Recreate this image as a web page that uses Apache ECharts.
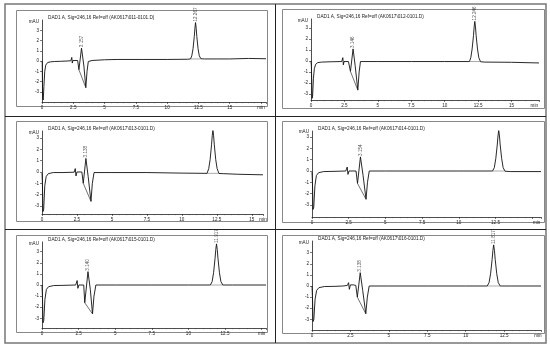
<!DOCTYPE html>
<html><head><meta charset="utf-8">
<script src="https://cdn.jsdelivr.net/npm/echarts@6/dist/echarts.min.js"></script>
<style>html,body{margin:0;padding:0;background:#fff}#c{width:550px;height:346px}</style>
</head><body><div id="c"></div>
<script>
// ---- data ----
const titles = [
  "DAD1 A, Sig=246,16 Ref=off (AK0617\\011-0101.D)",
  "DAD1 A, Sig=246,16 Ref=off (AK0617\\012-0101.D)",
  "DAD1 A, Sig=246,16 Ref=off (AK0617\\013-0101.D)",
  "DAD1 A, Sig=246,16 Ref=off (AK0617\\014-0101.D)",
  "DAD1 A, Sig=246,16 Ref=off (AK0617\\015-0101.D)",
  "DAD1 A, Sig=246,16 Ref=off (AK0617\\016-0101.D)"
];
const yTicks = [-3,-2,-1,0,1,2,3];
const xTickLabels = [0,2.5,5,7.5,10,12.5,15];
const xMax = [17.9, 17.05, 15.8, 15.6, 15.3, 14.9];
const yMin = [-4.0, -3.55, -3.72, -4.07, -3.87, -3.96];
const yMaxV = [4.0, 3.82, 3.63, 3.54, 3.87, 4.05];
const minLabelPos = [17.5, 16.7, 15.8, 15.3, 15.0, 14.7];

const trace1 = [[0,0],[0.02,-0.2],[0.05,-3.6],[0.1,-3.8],[0.15,-2.5],[0.22,-1.0],[0.3,-0.4],[0.45,-0.15],[0.7,-0.08],[1.0,-0.05],[1.5,-0.03],[2.0,0.0],[2.3,0.02],[2.38,0.35],[2.42,-0.2],[2.47,0.05],[2.6,0.05],[2.85,0.05],[2.95,-0.85],[3.157,1.25],[3.35,-0.5],[3.5,-2.6],[3.6,-1.0],[3.7,-0.05],[4.0,0.05],[5.0,0.12],[6.0,0.15],[8.0,0.15],[10.0,0.15],[11.6,0.17],[11.87,0.2],[11.97,0.5],[12.07,1.2],[12.17,2.4],[12.22,3.2],[12.27,3.75],[12.32,3.2],[12.37,2.4],[12.47,1.2],[12.57,0.5],[12.7,0.22],[13,0.2],[14,0.2],[15,0.2],[16.5,0.25],[17.9,0.22]];
const trace2 = [[0,0],[0.03,-0.5],[0.08,-3.4],[0.12,-3.2],[0.18,-1.6],[0.25,-0.7],[0.35,-0.3],[0.5,-0.15],[0.8,-0.1],[1.5,-0.07],[2.3,-0.05],[2.38,0.3],[2.42,-0.35],[2.47,-0.05],[2.8,-0.05],[2.95,-0.95],[3.146,1.1],[3.3,-0.4],[3.5,-2.65],[3.6,-1.0],[3.7,-0.05],[5,-0.05],[7.5,-0.05],[10,-0.05],[11.85,-0.05],[11.95,0.3],[12.05,1.1],[12.15,2.3],[12.2,3.1],[12.25,3.6],[12.3,3.1],[12.35,2.3],[12.45,1.1],[12.55,0.3],[12.68,-0.07],[13,-0.1],[15,-0.12],[17.05,-0.18]];
const trace3 = [[0,-0.1],[0.03,-1.0],[0.07,-3.5],[0.12,-3.3],[0.2,-1.2],[0.3,-0.4],[0.45,-0.15],[0.8,-0.05],[1.5,-0.05],[2.3,-0.02],[2.38,0.3],[2.43,-0.35],[2.5,0.0],[2.85,0.0],[2.95,-1.0],[3.138,1.2],[3.3,-0.4],[3.5,-2.6],[3.6,-1.0],[3.72,-0.05],[5,-0.05],[7.5,-0.05],[10,-0.1],[11.8,-0.12],[11.92,0.3],[12.02,1.1],[12.12,2.4],[12.17,3.2],[12.22,3.7],[12.27,3.2],[12.32,2.4],[12.42,1.1],[12.52,0.3],[12.65,-0.13],[13,-0.15],[14,-0.2],[15.8,-0.25]];
const trace4 = [[0,-0.1],[0.03,-1.0],[0.07,-3.4],[0.12,-3.2],[0.2,-1.3],[0.3,-0.4],[0.45,-0.15],[0.8,-0.05],[1.5,-0.03],[2.3,0.0],[2.4,0.35],[2.45,-0.3],[2.52,0.0],[3.0,0.0],[3.1,-1.1],[3.3,1.25],[3.48,-0.4],[3.68,-2.5],[3.78,-1.0],[3.9,0.0],[5,0.0],[7.5,0.0],[10,0.0],[12.3,0.0],[12.42,0.3],[12.52,1.1],[12.62,2.3],[12.67,3.1],[12.72,3.6],[12.77,3.1],[12.82,2.3],[12.92,1.1],[13.02,0.3],[13.15,-0.02],[13.5,-0.05],[15.6,-0.05]];
const trace5 = [[0,0],[0.03,-1.0],[0.07,-3.4],[0.12,-3.2],[0.2,-1.3],[0.3,-0.4],[0.45,-0.15],[0.8,-0.05],[1.5,-0.03],[2.3,0.0],[2.4,0.4],[2.45,-0.3],[2.52,0.0],[2.85,0.0],[2.92,-1.6],[3.14,1.2],[3.3,-0.4],[3.45,-2.6],[3.55,-1.0],[3.68,0.0],[5,0.0],[7.5,0.0],[10,0.0],[11.5,0.0],[11.62,0.3],[11.72,1.1],[11.82,2.4],[11.87,3.2],[11.92,3.7],[11.97,3.2],[12.02,2.4],[12.12,1.1],[12.22,0.3],[12.35,0.0],[13,0.0],[15.3,0.0]];
const trace6 = [[0,0],[0.03,-1.0],[0.07,-3.2],[0.12,-3.0],[0.2,-1.2],[0.3,-0.4],[0.45,-0.15],[0.8,-0.05],[1.5,-0.03],[2.0,0.0],[2.3,0.05],[2.38,0.3],[2.43,-0.3],[2.5,0.1],[2.7,0.1],[2.85,0.05],[2.95,-1.0],[3.138,1.2],[3.3,-0.4],[3.5,-2.5],[3.6,-1.0],[3.72,0.0],[5,0.0],[7.5,0.0],[10,0.0],[11.4,0.0],[11.52,0.3],[11.62,1.1],[11.72,2.4],[11.77,3.2],[11.82,3.7],[11.87,3.2],[11.92,2.4],[12.02,1.1],[12.12,0.3],[12.25,0.0],[13,0.0],[14.9,0.0]];
const traces = [trace1, trace2, trace3, trace4, trace5, trace6];

const integ = [
  [[2.95,-0.85],[3.5,-2.6]],
  [[2.95,-0.95],[3.5,-2.65]],
  [[2.95,-1.0],[3.5,-2.6]],
  [[3.1,-1.1],[3.68,-2.5]],
  [[2.92,-1.6],[3.45,-2.6]],
  [[2.95,-1.0],[3.5,-2.5]]
];
const mainBase = [
  [[11.87,0.2],[12.7,0.2]],
  [[11.85,-0.05],[12.68,-0.05]],
  [[11.8,-0.12],[12.65,-0.12]],
  [[12.3,0.0],[13.15,0.0]],
  [[11.5,0.0],[12.35,0.0]],
  [[11.4,0.0],[12.25,0.0]]
];
const rtSmall = ["3.157","3.146","3.138","3.154","3.140","3.138"];
const rtSmallPt = [[3.157,1.25],[3.146,1.1],[3.138,1.2],[3.3,1.25],[3.14,1.2],[3.138,1.2]];
const rtMain = ["12.267","12.246","12.217","12.317","11.917","11.817"];
const rtMainPt = [[12.27,3.75],[12.25,3.6],[12.22,3.7],[12.72,3.6],[11.92,3.7],[11.82,3.7]];

// ---- layout ----
const grids = [
  {left:42, top:20, width:224, height:82},
  {left:311, top:19, width:228, height:81},
  {left:42, top:131, width:221, height:83},
  {left:312, top:131, width:229, height:86},
  {left:42, top:242, width:224, height:86},
  {left:312, top:241, width:229, height:89}
];
const frames = [
  [16,10,251,96],[282,9,262,99],[16,121,251,100],[282,121,262,101],[16,235,251,97],[282,235,262,98]
];

const fs = 4.6;
const ff = 'Arial, Liberation Sans';
const option = {
  animation:false,
  backgroundColor:'#fff',
  grid: grids.map(g=>Object.assign({containLabel:false}, g)),
  xAxis: grids.map((g,i)=>({
    type:'value', gridIndex:i, min:0, max:xMax[i], interval:2.5,
    axisLine:{show:true, onZero:false, lineStyle:{color:'#222', width:0.8}},
    axisTick:{show:true, length:2, lineStyle:{color:'#222', width:0.6}},
    minorTick:{show:true, splitNumber:5, length:1.2, lineStyle:{color:'#444', width:0.5}},
    splitLine:{show:false},
    axisLabel:{show:true, fontSize:fs, color:'#222', margin:3, fontFamily:ff,
      customValues: xTickLabels.filter(v=>v<=minLabelPos[i]-0.6).concat([minLabelPos[i]]),
      formatter: v => (Math.abs(v-minLabelPos[i])<1e-6 ? 'min' : String(v))}
  })),
  yAxis: grids.map((g,i)=>({
    type:'value', gridIndex:i, min:yMin[i], max:yMaxV[i],
    name:'mAU', nameLocation:'end', nameGap:-2,
    nameTextStyle:{fontSize:fs, color:'#222', align:'right', verticalAlign:'middle', padding:[0,3,0,0], fontFamily:ff},
    axisLine:{show:true, onZero:false, lineStyle:{color:'#222', width:0.8}},
    axisTick:{show:true, length:2, customValues:yTicks, lineStyle:{color:'#222', width:0.6}},
    splitLine:{show:false},
    axisLabel:{show:true, fontSize:fs, color:'#222', margin:3, customValues:yTicks, fontFamily:ff}
  })),
  title: titles.map((t,i)=>({
    text:t, left:grids[i].left+1, top:grids[i].top-10,
    textStyle:{fontSize:4.7, fontWeight:'normal', color:'#222', fontFamily:ff}
  })),
  series: [],
  graphic: []
};
for (let i=0;i<6;i++){
  option.series.push({type:'line', xAxisIndex:i, yAxisIndex:i, data:traces[i], showSymbol:false, symbol:'none',
    lineStyle:{color:'#111', width:0.9}, silent:true});
  option.series.push({type:'line', xAxisIndex:i, yAxisIndex:i, data:integ[i], showSymbol:false, symbol:'none',
    lineStyle:{color:'#333', width:0.7}, silent:true});
  option.series.push({type:'line', xAxisIndex:i, yAxisIndex:i, data:mainBase[i], showSymbol:false, symbol:'none',
    lineStyle:{color:'#555', width:0.5}, silent:true});
  option.series.push({type:'scatter', xAxisIndex:i, yAxisIndex:i, symbolSize:0,
    data:[{value:rtSmallPt[i], name:rtSmall[i]},{value:rtMainPt[i], name:rtMain[i]}],
    label:{show:true, position:'top', distance:1, rotate:90, align:'left', verticalAlign:'middle', formatter:p=>p.name, fontSize:4.6, color:'#222', fontFamily:ff},
    silent:true});
}
frames.forEach(f=>{
  option.graphic.push({type:'rect', shape:{x:f[0]+0.5,y:f[1]+0.5,width:f[2],height:f[3]}, style:{fill:'none', stroke:'#888', lineWidth:1}, silent:true});
});
option.graphic.push({type:'rect', shape:{x:5,y:4,width:541,height:339}, style:{fill:'none', stroke:'#777', lineWidth:1.5}, silent:true});
option.graphic.push({type:'line', shape:{x1:275.5,y1:4,x2:275.5,y2:343}, style:{stroke:'#222', lineWidth:1}, silent:true});
option.graphic.push({type:'line', shape:{x1:5,y1:116.5,x2:546,y2:116.5}, style:{stroke:'#222', lineWidth:1}, silent:true});
option.graphic.push({type:'line', shape:{x1:5,y1:229.5,x2:546,y2:229.5}, style:{stroke:'#222', lineWidth:1}, silent:true});

const chart = echarts.init(document.getElementById('c'), null, {renderer:'canvas'});
chart.setOption(option);
</script></body></html>
